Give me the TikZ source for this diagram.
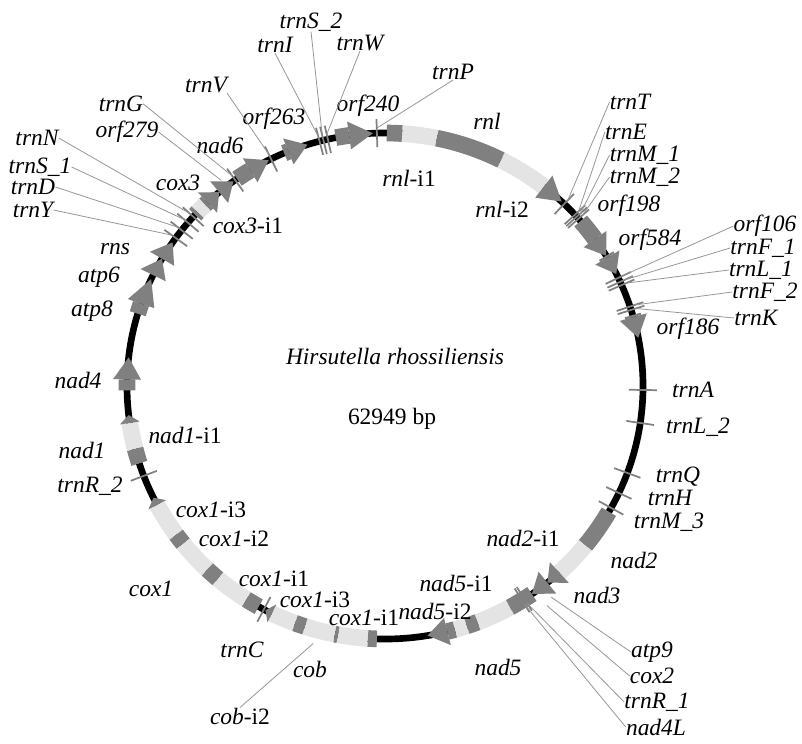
\documentclass[tikz,border=0pt]{standalone}
\usepackage{fontspec}
\setmainfont{Liberation Serif}
\definecolor{exongray}{RGB}{128,128,128}
\definecolor{introngray}{RGB}{228,228,228}
\definecolor{leadgray}{RGB}{150,150,150}
\tikzset{
  backbone/.style={line width=5pt, black},
  exon/.style={line width=12.5pt, exongray},
  intron/.style={line width=12.5pt, introngray},
  genehead/.style={fill=exongray},
  trna/.style={line width=1.3pt, gray},
  leader/.style={line width=0.6pt, leadgray},
  lab/.style={font=\fontsize{17.6}{20}\selectfont\itshape, inner sep=0pt},
  plainlab/.style={font=\fontsize{17.6}{20}\selectfont, inner sep=0pt}
}
\begin{document}
\begin{tikzpicture}[x=0.75pt, y=-0.75pt]
\useasboundingbox (0,0) rectangle (802,743);

% genome circle
\begin{scope}[shift={(385,386)}]
\draw[backbone] (0,0) ellipse [x radius=258, y radius=253];

% introns
\foreach \a/\b in {-86.2/-78.4, -63.3/-52, 39/47.5, 61/69, 71.5/74.3, 93.8/100.5,
    101.2/108.1, 110.4/116, 122.5/130.4, 133.5/141.5, 144/152, 165.6/171.6, 223.4/225.8}
  \draw[intron] (\a:258 and 253) arc[start angle=\a, end angle=\b, x radius=258, y radius=253];

% exons
\foreach \a/\b in {-89.6/-86.2, -78.4/-63.3, -40.7/-35.5, -31/-30.5, -16.3/-15.8, 29.8/39,
    55.3/61, 69/71.5, 74.3/76, 91.8/93.8, 100.5/101.2, 108.1/110.4, 119.3/122.5,
    130.4/133.5, 141.5/144, 162.2/165.6, 179/181.5, 196.6/199, 222.6/223.4,
    225.8/226.5, 235/238.5, 247/248, 259/262}
  \draw[exon] (\a:258 and 253) arc[start angle=\a, end angle=\b, x radius=258, y radius=253];

% arrow heads
\foreach \a/\b in {-52/-46.8, -35.5/-31, -30.5/-26.3, -15.8/-11, 47.5/51, 51/55.3,
    76/80.5, 181.5/186.5, 199/205, 206/210.2, 210.2/214.6, 226.5/230, 230/234,
    238.5/243.2, 248/252.5, 262/267.3}
  \fill[genehead] (\a:272 and 267) -- (\b:258 and 253) -- (\a:244 and 239) -- cycle;
\foreach \a/\b in {116/117.6, 152/153.8, 171.6/173.4}
  \fill[genehead] (\a:268 and 263) -- (\b:258 and 253) -- (\a:248 and 243) -- cycle;

% tRNA ticks
\foreach \t/\n in {-46/T, -42.6/E, -42/Ma, -41.4/Mb, -25.3/Oa, -24.3/Fa, -23.5/La,
    -18.3/Fb, -17.5/K, 0.9/A, 8.4/Lb, 20.1/Q, 25/H, 28.8/Mc, 57.3/Ra, 57.9/NL,
    118/C, 159.2/Rb, 215.8/Y, 218/D, 220.2/Sa, 222/N, 234.5/G, 243.8/V,
    255.3/I, 256.2/Sb, 257.2/W, 268.2/P}
{
  \draw[trna] (\t:244 and 239) -- (\t:272 and 267);
  \coordinate (p\n) at (\t:263 and 258);
}
\coordinate (pA9) at (52.3:272 and 267);
\coordinate (pC2) at (54.1:276 and 271);
\coordinate (pO279) at (232:266 and 261);
\coordinate (pCobi) at (105.3:272 and 267);
\end{scope}

% centre text
\node[lab] (name) at (395,356) {Hirsutella rhossiliensis};
\node[plainlab] (size) at (392,419) {62949 bp};

% labels, top
\node[lab] (lSb) at (311,22) {trnS\_2};
\node[lab] (lI) at (275,45) {trnI};
\node[lab] (lW) at (360,43) {trnW};
\node[lab] (lV) at (206,85) {trnV};
\node[lab] (lP) at (453,72) {trnP};
\node[lab] (lO263) at (274,119) {orf263};
\node[lab] (lO240) at (368,106) {orf240};
\node[lab] (lN6) at (220,145) {nad6};
\node[lab] (lRnl) at (487,121) {rnl};
\node[lab] (lRnla) at (409,178) {rnl\textup{-i1}};
\node[lab] (lRnlb) at (502,209) {rnl\textup{-i2}};

% labels, right
\node[lab] (lT) at (630,102) {trnT};
\node[lab] (lE) at (626,132) {trnE};
\node[lab] (lMa) at (645,155) {trnM\_1};
\node[lab] (lMb) at (645,177) {trnM\_2};
\node[lab] (lO198) at (629,206) {orf198};
\node[lab] (lO584) at (650,240) {orf584};
\node[lab] (lOa) at (765,226) {orf106};
\node[lab] (lFa) at (763,248) {trnF\_1};
\node[lab] (lLa) at (761,270) {trnL\_1};
\node[lab] (lFb) at (765,292) {trnF\_2};
\node[lab] (lK) at (756,318) {trnK};
\node[lab] (lO186) at (688,329) {orf186};
\node[lab] (lA) at (693,390) {trnA};
\node[lab] (lLb) at (698,427) {trnL\_2};
\node[lab] (lQ) at (678,477) {trnQ};
\node[lab] (lH) at (670,498) {trnH};
\node[lab] (lMc) at (669,522) {trnM\_3};
\node[lab] (lN2) at (634,560) {nad2};
\node[lab] (lN2a) at (523,538) {nad2\textup{-i1}};
\node[lab] (lN3) at (597,595) {nad3};
\node[lab] (lA9) at (652,652) {atp9};
\node[lab] (lC2) at (652,676) {cox2};
\node[lab] (lRa) at (657,702) {trnR\_1};
\node[lab] (lNL) at (656,727) {nad4L};

% labels, bottom
\node[lab] (lN5) at (498,667) {nad5};
\node[lab] (lN5a) at (456,583) {nad5\textup{-i1}};
\node[lab] (lN5b) at (435,611) {nad5\textup{-i2}};
\node[lab] (lCxa) at (364,618) {cox1\textup{-i1}};
\node[lab] (lCxb) at (315,600) {cox1\textup{-i3}};
\node[lab] (lCob) at (310,669) {cob};
\node[lab] (lCobi) at (240,716) {cob\textup{-i2}};
\node[lab] (lC) at (242,650) {trnC};

% labels, left
\node[lab] (lCx1a) at (274,579) {cox1\textup{-i1}};
\node[lab] (lCx1) at (151,589) {cox1};
\node[lab] (lCx1b) at (234,539) {cox1\textup{-i2}};
\node[lab] (lCx1c) at (211,510) {cox1\textup{-i3}};
\node[lab] (lRb) at (90,486) {trnR\_2};
\node[lab] (lN1) at (82,450) {nad1};
\node[lab] (lN1a) at (185,435) {nad1\textup{-i1}};
\node[lab] (lN4) at (78,380) {nad4};
\node[lab] (lA8) at (92,311) {atp8};
\node[lab] (lA6) at (99,277) {atp6};
\node[lab] (lRns) at (115,249) {rns};
\node[lab] (lY) at (33,210) {trnY};
\node[lab] (lD) at (33,187) {trnD};
\node[lab] (lSa) at (40,167) {trnS\_1};
\node[lab] (lN) at (37,138) {trnN};
\node[lab] (lO279) at (127,132) {orf279};
\node[lab] (lG) at (121,104) {trnG};
\node[lab] (lCx3) at (178,183) {cox3};
\node[lab] (lCx3a) at (248,226) {cox3\textup{-i1}};

% leader lines
\draw[leader] (lSb.south) -- (pSb);
\draw[leader] (lI.south) -- (pI);
\draw[leader] (lW.south) -- (pW);
\draw[leader] (lV.south east) -- (pV);
\draw[leader] (lP.south) -- (pP);
\draw[leader] (lT.west) -- (pT);
\draw[leader] (lE.west) -- (pE);
\draw[leader] (lMa.west) -- (pMa);
\draw[leader] (lMb.west) -- (pMb);
\draw[leader] (lOa.west) -- (pOa);
\draw[leader] (lFa.west) -- (pFa);
\draw[leader] (lLa.west) -- (pLa);
\draw[leader] (lFb.west) -- (pFb);
\draw[leader] (lK.west) -- (pK);
\draw[leader] (lA9.west) -- (pA9);
\draw[leader] (lC2.west) -- (pC2);
\draw[leader] (lRa.west) -- (pRa);
\draw[leader] (lNL.west) -- (pNL);
\draw[leader] (lCobi.north) -- (pCobi);
\draw[leader] (lY.east) -- (pY);
\draw[leader] (lD.east) -- (pD);
\draw[leader] (lSa.east) -- (pSa);
\draw[leader] (lN.east) -- (pN);
\draw[leader] (lO279.east) -- (pO279);
\draw[leader] (lG.east) -- (pG);
\end{tikzpicture}
\end{document}
